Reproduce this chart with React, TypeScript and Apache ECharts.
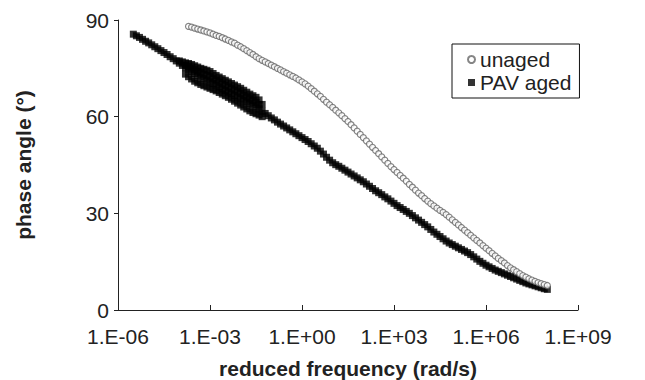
import React, { useEffect, useRef } from "react";
import * as echarts from "echarts";

// log10 of reduced frequency (rad/s) and phase angle (deg)
const xTickExponents = [-6, -3, 0, 3, 6, 9];
const yTicks = [0, 30, 60, 90];

const unagedLogF = [
  -3.7, -3.6, -3.5, -3.4, -3.3, -3.2, -3.1, -3.0, -2.9, -2.8, -2.7, -2.6, -2.5, -2.4, -2.3, -2.2, -2.1, -2.0,
  -1.9, -1.8, -1.7, -1.6, -1.5, -1.4, -1.3, -1.2, -1.1, -1.0, -0.9, -0.8, -0.7, -0.6, -0.5, -0.4, -0.3, -0.2,
  -0.1, 0.0, 0.1, 0.2, 0.3, 0.4, 0.5, 0.6, 0.7, 0.8, 0.9, 1.0, 1.1, 1.2, 1.3, 1.4, 1.5, 1.6, 1.7, 1.8, 1.9,
  2.0, 2.1, 2.2, 2.3, 2.4, 2.5, 2.6, 2.7, 2.8, 2.9, 3.0, 3.1, 3.2, 3.3, 3.4, 3.5, 3.6, 3.7, 3.8, 3.9, 4.0,
  4.1, 4.2, 4.3, 4.4, 4.5, 4.6, 4.7, 4.8, 4.9, 5.0, 5.1, 5.2, 5.3, 5.4, 5.5, 5.6, 5.7, 5.8, 5.9, 6.0, 6.1,
  6.2, 6.3, 6.4, 6.5, 6.6, 6.7, 6.8, 6.9, 7.0, 7.1, 7.2, 7.3, 7.4, 7.5, 7.6, 7.7, 7.8, 7.9, 8.0,
];
const unagedPhase = [
  88.0, 87.8, 87.5, 87.2, 86.9, 86.6, 86.3, 86.0, 85.6, 85.2, 84.9, 84.5, 84.1, 83.7, 83.2, 82.8, 82.2, 81.7,
  81.1, 80.5, 79.9, 79.3, 78.6, 78.0, 77.5, 77.0, 76.5, 76.0, 75.5, 75.0, 74.5, 74.0, 73.5, 73.0, 72.5, 72.0,
  71.4, 70.8, 70.2, 69.5, 68.7, 67.9, 67.1, 66.3, 65.4, 64.5, 63.7, 62.9, 62.0, 61.2, 60.3, 59.4, 58.5, 57.5,
  56.5, 55.5, 54.5, 53.5, 52.5, 51.5, 50.5, 49.5, 48.5, 47.5, 46.5, 45.5, 44.5, 43.6, 42.7, 41.8, 40.9, 40.0,
  39.0, 38.1, 37.2, 36.3, 35.5, 34.6, 33.8, 33.0, 32.3, 31.6, 30.9, 30.3, 29.6, 28.8, 28.0, 27.2, 26.4, 25.6,
  24.8, 24.0, 23.2, 22.4, 21.6, 20.8, 20.0, 19.2, 18.4, 17.6, 16.8, 16.0, 15.3, 14.6, 13.8, 13.1, 12.5, 11.9,
  11.3, 10.7, 10.2, 9.7, 9.3, 8.9, 8.5, 8.2, 7.9, 7.6,
];

const agedLogF = [
  -5.5, -5.4, -5.3, -5.2, -5.1, -5.0, -4.9, -4.8, -4.7, -4.6, -4.5, -4.4, -4.3, -4.2, -4.1, -4.0, -3.9, -3.8,
  -3.7, -3.6, -3.5, -3.4, -3.3, -3.2, -3.1, -3.0, -2.9, -2.8, -2.7, -2.6, -2.5, -2.4, -2.3, -2.2, -2.1, -2.0,
  -1.9, -1.8, -1.7, -1.6, -1.5, -1.4, -1.3, -1.2, -1.1, -1.0, -0.9, -0.8, -0.7, -0.6, -0.5, -0.4, -0.3, -0.2,
  -0.1, 0.0, 0.1, 0.2, 0.3, 0.4, 0.5, 0.6, 0.7, 0.8, 0.9, 1.0, 1.1, 1.2, 1.3, 1.4, 1.5, 1.6, 1.7, 1.8, 1.9,
  2.0, 2.1, 2.2, 2.3, 2.4, 2.5, 2.6, 2.7, 2.8, 2.9, 3.0, 3.1, 3.2, 3.3, 3.4, 3.5, 3.6, 3.7, 3.8, 3.9, 4.0,
  4.1, 4.2, 4.3, 4.4, 4.5, 4.6, 4.7, 4.8, 4.9, 5.0, 5.1, 5.2, 5.3, 5.4, 5.5, 5.6, 5.7, 5.8, 5.9, 6.0, 6.1,
  6.2, 6.3, 6.4, 6.5, 6.6, 6.7, 6.8, 6.9, 7.0, 7.1, 7.2, 7.3, 7.4, 7.5, 7.6, 7.7, 7.8, 7.9, 8.0,
  // wide band of overlapping curves at low frequency: upper edge
  -4.0, -3.9, -3.8, -3.7, -3.6, -3.5, -3.4, -3.3, -3.2, -3.1, -3.0, -2.9, -2.8, -2.7, -2.6, -2.5, -2.4, -2.3,
  -2.2, -2.1, -2.0, -1.9, -1.8, -1.7, -1.6, -1.5, -1.4, -1.3,
  // middle of the band
  -3.8, -3.6, -3.4, -3.2, -3.0, -2.8, -2.6, -2.4, -2.2, -2.0, -1.8, -1.6, -1.4,
  -3.7, -3.5, -3.3, -3.1, -2.9, -2.7, -2.5, -2.3, -2.1, -1.9, -1.7, -1.5,
  // lower edge
  -3.8, -3.7, -3.6, -3.5, -3.4, -3.3, -3.2, -3.1, -3.0, -2.9, -2.8, -2.7, -2.6, -2.5, -2.4, -2.3, -2.2, -2.1,
  -2.0, -1.9, -1.8, -1.7, -1.6, -1.5, -1.4, -1.3,
];
const agedPhase = [
  85.6, 85.1, 84.6, 84.0, 83.4, 82.9, 82.3, 81.7, 81.1, 80.5, 79.9, 79.3, 78.6, 78.0, 77.3, 76.6, 75.9, 75.2,
  74.6, 74.0, 73.4, 72.8, 72.3, 71.8, 71.3, 70.8, 70.3, 69.8, 69.2, 68.6, 68.1, 67.6, 67.1, 66.6, 66.1, 65.6,
  65.1, 64.6, 64.1, 63.6, 63.0, 62.4, 61.7, 61.0, 60.3, 59.6, 59.0, 58.3, 57.7, 57.1, 56.5, 55.9, 55.3, 54.7,
  54.1, 53.5, 52.9, 52.3, 51.6, 50.9, 50.2, 49.3, 48.4, 47.4, 46.5, 45.7, 45.1, 44.6, 44.0, 43.4, 42.8, 42.2,
  41.6, 41.0, 40.4, 39.8, 39.1, 38.4, 37.7, 37.0, 36.4, 35.8, 35.1, 34.5, 33.8, 33.1, 32.4, 31.8, 31.2, 30.6,
  30.0, 29.3, 28.6, 27.9, 27.2, 26.5, 25.8, 25.0, 24.2, 23.5, 22.8, 22.1, 21.4, 20.8, 20.3, 19.8, 19.3, 18.8,
  18.3, 17.8, 17.2, 16.5, 15.8, 15.1, 14.5, 13.9, 13.4, 12.9, 12.4, 12.0, 11.6, 11.2, 10.8, 10.4, 10.0, 9.6,
  9.2, 8.8, 8.4, 8.1, 7.8, 7.5, 7.2, 6.9, 6.6, 6.4,
  77.3, 77.0, 76.7, 76.5, 76.2, 75.8, 75.4, 75.0, 74.7, 74.4, 74.0, 73.4, 72.8, 72.3, 71.8, 71.3, 70.8, 70.3,
  69.8, 69.3, 68.8, 68.2, 67.6, 67.0, 66.5, 66.0, 65.2, 63.8,
  76.0, 75.1, 74.1, 73.2, 72.4, 71.3, 70.2, 69.2, 68.2, 67.2, 66.1, 65.0, 63.8,
  75.6, 74.6, 73.6, 72.8, 71.8, 70.7, 69.7, 68.7, 67.7, 66.6, 65.5, 64.4,
  73.2, 72.4, 71.7, 71.0, 70.5, 70.0, 69.6, 69.2, 68.8, 68.4, 68.0, 67.5, 67.0, 66.5, 66.0, 65.4, 64.8, 64.2,
  63.6, 63.0, 62.4, 61.8, 61.3, 60.9, 60.5, 60.0,
];

const formatExp = (v: number) => {
  const a = Math.abs(Math.round(v));
  return "1.E" + (v < 0 ? "-" : "+") + (a < 10 ? "0" + a : String(a));
};

export default function App() {
  const ref = useRef<HTMLDivElement>(null);
  useEffect(() => {
    if (!ref.current) return;
    const chart = echarts.init(ref.current, undefined, { renderer: "svg" });
    const font = "'Liberation Sans', Arial, sans-serif";
    chart.setOption({
      animation: false,
      backgroundColor: "#ffffff",
      textStyle: { fontFamily: font },
      grid: { left: 118, right: 67, top: 20, bottom: 70, containLabel: false, outerBoundsMode: "none" },
      legend: {
        orient: "vertical",
        left: 452,
        top: 44,
        padding: [4, 8, 4, 15],
        itemGap: 0,
        itemWidth: 7,
        itemHeight: 7,
        borderColor: "#111",
        borderWidth: 1,
        backgroundColor: "#fff",
        textStyle: { fontSize: 21, color: "#222", fontFamily: font, lineHeight: 23 },
        data: ["unaged", "PAV aged"],
      },
      xAxis: {
        type: "value",
        min: xTickExponents[0],
        max: xTickExponents[xTickExponents.length - 1],
        interval: 3,
        name: "reduced frequency (rad/s)",
        nameLocation: "middle",
        nameGap: 48,
        nameTextStyle: { fontSize: 21, fontWeight: "bold", color: "#222", fontFamily: font },
        axisLine: { onZero: false, lineStyle: { color: "#222", width: 1 } },
        axisTick: { inside: true, length: 5, lineStyle: { color: "#222" } },
        axisLabel: { fontSize: 21, color: "#222", margin: 16, formatter: formatExp, fontFamily: font },
        splitLine: { show: false },
      },
      yAxis: {
        type: "value",
        min: yTicks[0],
        max: yTicks[yTicks.length - 1],
        interval: 30,
        name: "phase angle (°)",
        nameLocation: "middle",
        nameRotate: 90,
        nameGap: 84,
        nameTextStyle: { fontSize: 21, fontWeight: "bold", color: "#222", fontFamily: font },
        axisLine: { show: true, onZero: false, lineStyle: { color: "#222", width: 1 } },
        axisTick: { show: true, inside: false, length: 4, lineStyle: { color: "#222" } },
        axisLabel: { fontSize: 21, color: "#222", margin: 9, fontFamily: font },
        splitLine: { show: false },
      },
      series: [
        {
          name: "unaged",
          type: "scatter",
          symbol: "circle",
          symbolSize: 6,
          z: 3,
          itemStyle: { color: "#ffffff", borderColor: "#666", borderWidth: 1.2 },
          data: unagedLogF.map((x, i) => [x, unagedPhase[i]]),
        },
        {
          name: "PAV aged",
          type: "scatter",
          symbol: "rect",
          symbolSize: 7,
          z: 2,
          itemStyle: { color: "#000" },
          data: agedLogF.map((x, i) => [x, agedPhase[i]]),
        },
      ],
    });
    return () => chart.dispose();
  }, []);
  return <div ref={ref} style={{ width: 645, height: 380, position: "absolute", left: 0, top: 0 }} />;
}
